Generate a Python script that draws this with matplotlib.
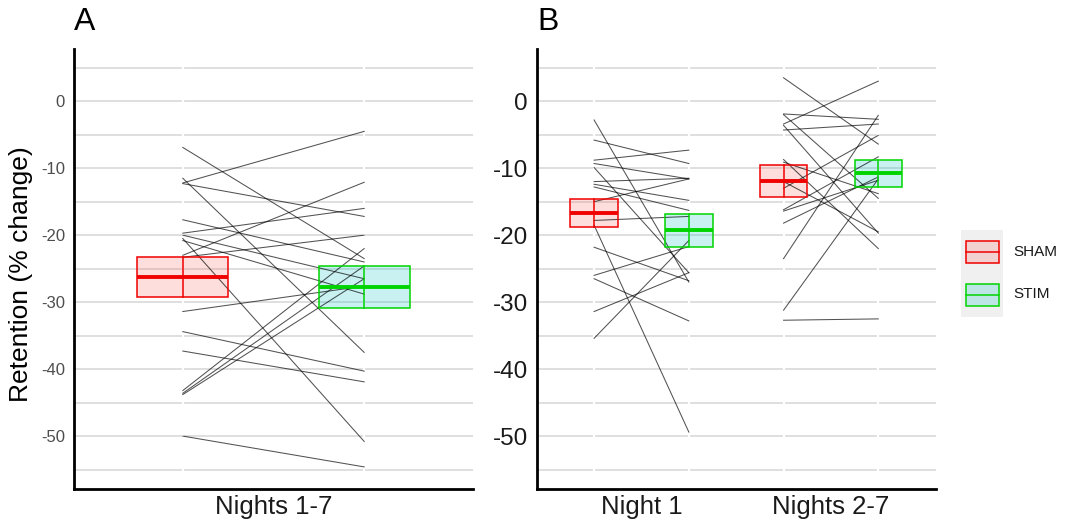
import matplotlib
matplotlib.use("Agg")
import matplotlib.pyplot as plt
from matplotlib.patches import Rectangle

plt.rcParams['font.family'] = ['Liberation Sans', 'DejaVu Sans']

W, H = 1065, 526

groups = ["SHAM", "STIM"]
edge_colors = ["#f00000", "#00d400"]
fill_colors = ["#F8766D", "#00BFC4"]
fill_alpha = [0.24, 0.21]

# ---- Panel A: retention over nights 1-7, one line per subject ----
period_a = ["Nights 1-7"]
a_sham = [-6.9, -11.5, -12.2, -12.3, -17.7, -19.7, -20.0, -20.5, -20.8,
          -23.0, -23.3, -31.4, -34.4, -37.3, -43.2, -43.6, -43.8, -50.0]
a_stim = [-23.5, -37.5, -4.5, -17.2, -24.0, -16.0, -26.5, -50.8, -28.8,
          -12.1, -20.0, -27.6, -40.3, -41.9, -22.0, -24.6, -26.5, -54.6]
a_mean = [-26.2, -27.7]   # SHAM, STIM
a_se = [3.0, 3.1]

# ---- Panel B: night 1 vs nights 2-7 ----
periods_b = ["Night 1", "Nights 2-7"]
b1_sham = [-2.8, -5.8, -8.8, -9.3, -9.9, -12.0, -12.4, -12.8, -15.0, -17.8,
           -18.5, -21.8, -26.0, -26.5, -31.4, -35.4]
b1_stim = [-27.0, -9.3, -7.3, -11.6, -25.6, -11.5, -14.8, -16.3, -11.6, -17.2,
           -49.4, -26.8, -21.7, -32.8, -25.6, -20.8]
b2_sham = [3.5, -1.9, -3.4, -4.3, -3.6, -2.0, -8.7, -9.1, -13.0, -16.2,
           -16.4, -18.2, -23.5, -31.2, -32.7, -12.0]
b2_stim = [-6.4, -2.7, 3.0, -3.4, -19.7, -14.5, -22.0, -13.8, -5.1, -8.3,
           -11.8, -11.3, -2.1, -11.6, -32.5, -19.5]
b_mean_sham = [-16.7, -11.9]
b_se_sham = [2.1, 2.4]
b_mean_stim = [-19.3, -10.75]
b_se_stim = [2.4, 2.05]

major_ticks = [0, -10, -20, -30, -40, -50]
minor_ticks = [5, -5, -15, -25, -35, -45, -55]
ylim = (-57.9, 7.8)


def style_axes(ax, xlim, dodge_x, tick_size, tick_color):
    ax.set_xlim(*xlim)
    ax.set_ylim(*ylim)
    ax.set_yticks(major_ticks)
    ax.set_yticklabels([str(t) for t in major_ticks])
    ax.set_yticks(minor_ticks, minor=True)
    ax.set_axisbelow(True)
    ax.grid(axis='y', which='both', color='#d6d6d6', lw=1.1)
    for x in dodge_x:
        ax.axvline(x, color='white', lw=1.6, zorder=0.7)
    for s in ['top', 'right']:
        ax.spines[s].set_visible(False)
    for s in ['left', 'bottom']:
        ax.spines[s].set_linewidth(2.0)
        ax.spines[s].set_color('black')
    ax.tick_params(axis='y', which='both', length=0, pad=6.5,
                   labelsize=tick_size, labelcolor=tick_color)
    ax.tick_params(axis='x', length=0, pad=4, labelsize=18.5,
                   labelcolor='#1a1a1a')


def crossbar(ax, x, mean, se, hw, gi):
    ax.add_patch(Rectangle((x - hw, mean - se), 2 * hw, 2 * se,
                           facecolor=fill_colors[gi], alpha=fill_alpha[gi],
                           edgecolor='none', zorder=2))
    ax.add_patch(Rectangle((x - hw, mean - se), 2 * hw, 2 * se,
                           facecolor='none', edgecolor=edge_colors[gi],
                           lw=1.1, zorder=4))
    ax.plot([x, x], [mean - se, mean + se], color=edge_colors[gi],
            lw=1.1, zorder=4)
    ax.plot([x - hw, x + hw], [mean, mean], color=edge_colors[gi],
            lw=2.8, zorder=5, solid_capstyle='butt')


def subject_lines(ax, x0, x1, v0, v1):
    for s0, s1 in zip(v0, v1):
        ax.plot([x0, x1], [s0, s1], color='black', lw=0.75, alpha=0.68,
                zorder=3)


fig = plt.figure(figsize=(W / 100, H / 100), dpi=100)

# Panel A
axA = fig.add_axes([74 / W, 1 - 489 / H, 399 / W, 440 / H])
dA = 1.0
style_axes(axA, (-2.2, 2.2), [-dA, dA], 12, '#4d4d4d')
axA.set_xticks([0])
axA.set_xticklabels(period_a)
crossbar(axA, -dA, a_mean[0], a_se[0], 0.5, 0)
crossbar(axA, dA, a_mean[1], a_se[1], 0.5, 1)
subject_lines(axA, -dA, dA, a_sham, a_stim)

# Panel B
axB = fig.add_axes([536.7 / W, 1 - 489 / H, 399 / W, 440 / H])
dB = 0.25
centers = [0, 1]
style_axes(axB, (-0.553, 1.553),
           [c + o for c in centers for o in (-dB, dB)], 17.5, '#1a1a1a')
axB.set_xticks(centers)
axB.set_xticklabels(periods_b)
for i, c in enumerate(centers):
    crossbar(axB, c - dB, b_mean_sham[i], b_se_sham[i], 0.125, 0)
    crossbar(axB, c + dB, b_mean_stim[i], b_se_stim[i], 0.125, 1)
subject_lines(axB, centers[0] - dB, centers[0] + dB, b1_sham, b1_stim)
subject_lines(axB, centers[1] - dB, centers[1] + dB, b2_sham, b2_stim)

# Panel letters and shared y label
fig.text(74 / W, 1 - 22 / H, "A", fontsize=23, va='center', ha='left')
fig.text(537 / W, 1 - 22 / H, "B", fontsize=23, va='center', ha='left')
fig.text(21 / W, 1 - 274 / H, "Retention (% change)", rotation=90,
         fontsize=19, va='center', ha='center', color='black')


# Legend
def fx(x):
    return x / W


def fy(y):
    return 1 - y / H


fig.patches.append(Rectangle((fx(961), fy(317)), fx(1003) - fx(961),
                             fy(230) - fy(317), transform=fig.transFigure,
                             facecolor='#f0f0f0', edgecolor='none'))
for gi, (yc, name) in enumerate(zip([251.5, 294.5], groups)):
    x0, x1 = 966, 998.5
    y0, y1 = yc - 11, yc + 11
    fig.patches.append(Rectangle((fx(x0), fy(y1)), fx(x1) - fx(x0),
                                 fy(y0) - fy(y1), transform=fig.transFigure,
                                 facecolor=fill_colors[gi],
                                 alpha=fill_alpha[gi], edgecolor='none'))
    fig.patches.append(Rectangle((fx(x0), fy(y1)), fx(x1) - fx(x0),
                                 fy(y0) - fy(y1), transform=fig.transFigure,
                                 facecolor='none', edgecolor=edge_colors[gi],
                                 lw=1.1))
    fig.lines.append(plt.Line2D([fx(x0), fx(x1)], [fy(yc), fy(yc)],
                                transform=fig.transFigure,
                                color=edge_colors[gi], lw=1.1))
    fig.text(fx(1013), fy(yc), name, fontsize=11, va='center', ha='left',
             color='#1a1a1a')

fig.savefig("out.png", dpi=100)
